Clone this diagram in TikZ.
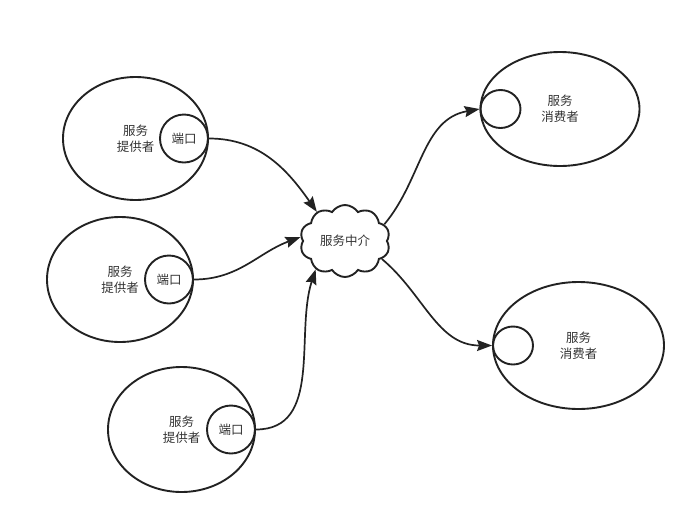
\documentclass[tikz,border=0pt]{standalone}
\usepackage{fontspec}
\newfontfamily\cjk{Noto Sans CJK SC}
\usetikzlibrary{shapes.geometric,shapes.symbols,arrows.meta}
\definecolor{linegray}{HTML}{222222}
\definecolor{textgray}{HTML}{333333}
\tikzstyle{party} = [draw=linegray, line width=1.9pt, ellipse, inner sep=0pt,
    align=center, text=textgray, font=\cjk\fontsize{12.5}{16}\selectfont]
\tikzstyle{port} = [draw=linegray, line width=1.9pt, circle, inner sep=0pt,
    minimum size=48pt, text=textgray, font=\cjk\fontsize{12.5}{16}\selectfont]
\tikzstyle{slot} = [draw=linegray, line width=1.9pt, ellipse, inner sep=0pt,
    minimum width=40pt, minimum height=38pt]
\tikzstyle{broker} = [draw=linegray, line width=1.9pt, cloud, cloud puffs=10,
    cloud puff arc=115, aspect=1.3, minimum width=90pt, minimum height=72pt,
    inner sep=0pt, text=textgray, font=\cjk\fontsize{12.5}{16}\selectfont]
\tikzstyle{link} = [draw=linegray, line width=1.7pt,
    -{Stealth[length=15pt, width=11pt, inset=2pt]}]

\begin{document}
\begin{tikzpicture}[x=1pt, y=-1pt]
    \useasboundingbox (0,0) rectangle (694,523);
    % providers
    \node [party, minimum width=145pt, minimum height=123pt] (prov1) at (135.5,138.5) {服务\\提供者};
    \node [port, anchor=east] (port1) at (prov1.east) {端口};
    \node [party, minimum width=146pt, minimum height=125pt] (prov2) at (120,279.5) {服务\\提供者};
    \node [port, anchor=east] (port2) at (prov2.east) {端口};
    \node [party, minimum width=147pt, minimum height=125pt] (prov3) at (181.5,429.5) {服务\\提供者};
    \node [port, anchor=east] (port3) at (prov3.east) {端口};
    % broker
    \node [broker] (hub) at (345,241) {服务中介};
    % consumers
    \node [party, minimum width=159pt, minimum height=114pt] (cons1) at (560,109) {服务\\消费者};
    \node [slot, anchor=west] (slot1) at (cons1.west) {};
    \node [party, minimum width=171pt, minimum height=127pt] (cons2) at (578.5,345.5) {服务\\消费者};
    \node [slot, anchor=west] (slot2) at (cons2.west) {};
    % links
    \draw [link] (port1.east) to[out=0, in=125] (hub.134);
    \draw [link] (port2.east) to[out=0, in=200] (hub.175);
    \draw [link] (port3.east) to[out=0, in=252] (hub.224);
    \draw [link] (hub.23) to[out=50, in=190] (slot1.west);
    \draw [link] (hub.-26) to[out=-40, in=180] (slot2.west);
\end{tikzpicture}
\end{document}
